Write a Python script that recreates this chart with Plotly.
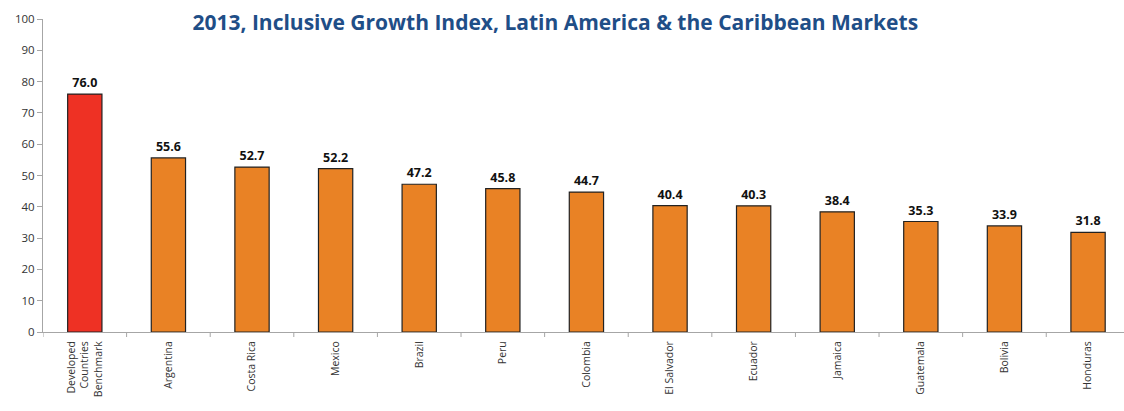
import plotly.graph_objects as go

categories = ["Developed<br>Countries<br>Benchmark", "Argentina", "Costa Rica", "Mexico", "Brazil", "Peru",
              "Colombia", "El Salvador", "Ecuador", "Jamaica", "Guatemala", "Bolivia", "Honduras"]
values = [76.0, 55.6, 52.7, 52.2, 47.2, 45.8, 44.7, 40.4, 40.3, 38.4, 35.3, 33.9, 31.8]
colors = ["#EE3124"] + ["#E98225"] * 12
title_text = "2013, Inclusive Growth Index, Latin America & the Caribbean Markets"

x = list(range(len(categories)))

fig = go.Figure()
fig.add_trace(go.Bar(
    x=x, y=values, width=0.41,
    marker=dict(color=colors, line=dict(color="#222222", width=1.2)),
    text=[f"{v:.1f}" for v in values], textposition="outside",
    textfont=dict(family="Open Sans", size=12.5, color="#111111", weight="bold"),
    cliponaxis=False,
))

fig.update_layout(
    width=1124, height=411,
    margin=dict(l=43, r=0, t=19, b=79),
    paper_bgcolor="white", plot_bgcolor="white",
    showlegend=False,
    title=dict(text=title_text, x=0.494, xanchor="center", y=0.945, yanchor="middle",
               font=dict(family="Open Sans", size=21, color="#1F4E87", weight="bold")),
    font=dict(family="Open Sans", color="#333333"),
)
fig.update_yaxes(range=[0, 100], dtick=10, showgrid=False, showline=True, linecolor="#A6A6A6",
                 ticks="outside", ticklen=5, tickcolor="#A6A6A6",
                 tickfont=dict(size=11.5, color="#333333"), zeroline=False)
fig.update_xaxes(range=[-0.5, 12.43], showgrid=False, showline=True, linecolor="#A6A6A6",
                 tickmode="array", tickvals=x, ticktext=categories, tickangle=-90,
                 ticks="outside", ticklen=4, tickcolor="rgba(0,0,0,0)",
                 tickfont=dict(size=10.5, color="#333333"))
# boundary tick marks between categories
for i in range(len(categories)):
    fig.add_shape(type="line", xref="x", yref="paper", x0=i - 0.5, x1=i - 0.5, y0=0, y1=-0.016,
                  line=dict(color="#A6A6A6", width=1))

fig.write_html("out.html")
